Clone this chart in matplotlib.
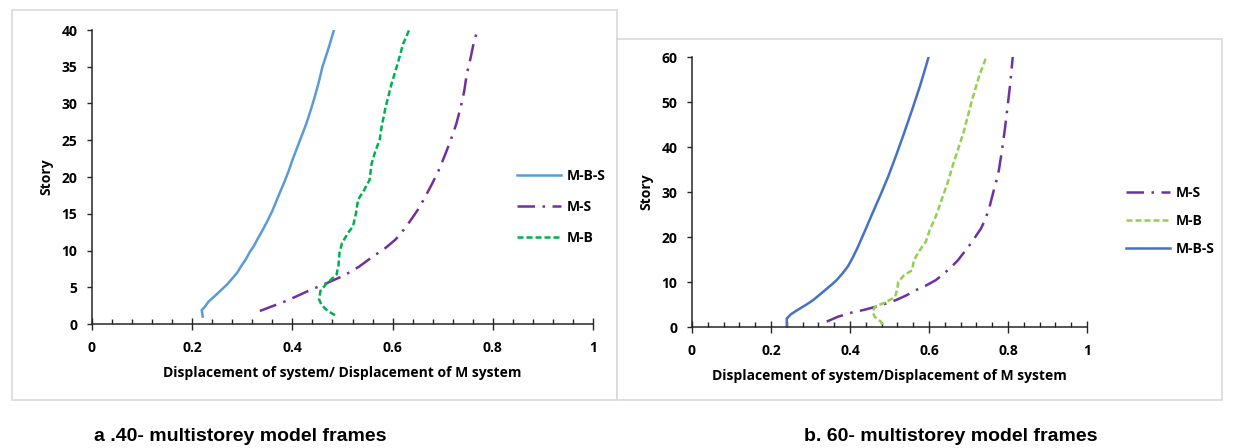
import matplotlib
matplotlib.use("Agg")
import matplotlib.pyplot as plt
from matplotlib.patches import Rectangle
from matplotlib.ticker import MultipleLocator, FuncFormatter

# ---- data: panel a (40 storeys) ----
a_mbs_x = [0.221, 0.219, 0.2255, 0.232, 0.245, 0.259, 0.27, 0.28, 0.29, 0.298, 0.307, 0.315, 0.323, 0.33, 0.34,
           0.35, 0.36, 0.369, 0.377, 0.385, 0.393, 0.40, 0.414, 0.428, 0.437, 0.445, 0.453, 0.46, 0.472, 0.483]
a_mbs_y = [1.0, 1.9, 2.35, 3.0, 3.8, 4.7, 5.4, 6.2, 7.0, 7.9, 8.8, 9.8, 10.6, 11.5, 12.7,
           14.0, 15.4, 16.9, 18.2, 19.5, 20.9, 22.3, 24.8, 27.3, 29.2, 31.0, 33.0, 35.0, 37.5, 40.0]

a_ms_x = [0.335, 0.39, 0.435, 0.47, 0.503, 0.533, 0.561, 0.585, 0.606, 0.622, 0.637, 0.652, 0.665, 0.679, 0.692,
          0.704, 0.716, 0.727, 0.736, 0.743, 0.748, 0.756, 0.763, 0.77]
a_ms_y = [1.77, 3.2, 4.6, 5.6, 6.6, 7.8, 9.2, 10.3, 11.5, 12.8, 14.2, 15.7, 17.3, 19.1, 20.9,
          22.9, 25.0, 27.2, 29.5, 31.7, 34.0, 36.3, 38.6, 40.0]

a_mb_x = [0.485, 0.47, 0.458, 0.453, 0.456, 0.468, 0.488, 0.492, 0.494, 0.499, 0.511, 0.521, 0.527, 0.531, 0.543,
          0.554, 0.558, 0.566, 0.574, 0.578, 0.586, 0.598, 0.61, 0.621, 0.633]
a_mb_y = [1.2, 1.8, 2.6, 3.4, 4.5, 5.5, 6.7, 8.0, 9.7, 11.0, 12.4, 13.3, 15.1, 16.9, 18.2,
          19.6, 21.8, 23.6, 25.0, 26.8, 29.5, 32.7, 35.4, 38.1, 40.0]

# ---- data: panel b (60 storeys) ----
b_ms_x = [0.341, 0.37, 0.404, 0.44, 0.477, 0.517, 0.542, 0.567, 0.592, 0.617, 0.637, 0.657, 0.673, 0.687, 0.702,
          0.717, 0.731, 0.742, 0.753, 0.762, 0.77, 0.777, 0.785, 0.792, 0.797, 0.802, 0.806, 0.809, 0.812]
b_ms_y = [1.2, 2.3, 3.2, 3.9, 4.8, 6.0, 7.0, 8.2, 9.2, 10.4, 11.8, 13.4, 14.8, 16.4, 18.1,
          20.0, 21.8, 23.8, 26.6, 29.7, 32.3, 34.9, 39.4, 43.9, 47.6, 51.3, 54.3, 57.2, 60.0]

b_mb_x = [0.482, 0.478, 0.462, 0.458, 0.463, 0.49, 0.514, 0.52, 0.522, 0.537, 0.557, 0.562, 0.577, 0.592, 0.602,
          0.617, 0.632, 0.647, 0.662, 0.687, 0.707, 0.727, 0.745]
b_mb_y = [0.5, 1.2, 2.3, 3.3, 4.5, 5.5, 6.7, 8.5, 10.0, 11.5, 12.6, 14.9, 17.1, 19.0, 21.6,
          24.5, 28.3, 32.0, 36.4, 43.1, 49.8, 55.8, 60.0]

b_mbs_x = [0.24, 0.24, 0.25, 0.262, 0.275, 0.29, 0.307, 0.322, 0.337, 0.352, 0.366, 0.381, 0.395, 0.408, 0.42,
           0.438, 0.457, 0.477, 0.497, 0.517, 0.537, 0.557, 0.577, 0.588, 0.599]
b_mbs_y = [0.1, 1.9, 2.8, 3.5, 4.2, 5.0, 6.0, 7.1, 8.2, 9.3, 10.4, 11.9, 13.5, 15.6, 17.8,
           21.4, 25.3, 29.3, 33.5, 38.2, 43.1, 48.2, 53.5, 56.7, 60.0]

FONT = ["Open Sans", "DejaVu Sans"]
FS = 10
DASHDOT = (0, (7, 3, 1, 3))
DASHED = (0, (2.4, 1.2))
LW = 1.8


def style_axes(ax, ymax, ystep):
    ax.set_xlim(0, 1)
    ax.set_ylim(0, ymax)
    for s in ["top", "right"]:
        ax.spines[s].set_visible(False)
    for s in ["left", "bottom"]:
        ax.spines[s].set_linewidth(1.1)
        ax.spines[s].set_color("#262626")
    ax.xaxis.set_major_locator(MultipleLocator(0.2))
    ax.xaxis.set_minor_locator(MultipleLocator(0.04))
    ax.yaxis.set_major_locator(MultipleLocator(ystep))
    ax.xaxis.set_major_formatter(FuncFormatter(lambda v, p: f"{v:g}"))
    ax.tick_params(axis="x", which="major", direction="inout", length=8, width=1, pad=8, color="#262626")
    ax.tick_params(axis="x", which="minor", direction="in", length=3.5, width=1, color="#262626")
    ax.tick_params(axis="y", which="major", direction="out", length=3.5, width=1, pad=7, color="#262626")
    for lab in ax.get_xticklabels() + ax.get_yticklabels():
        lab.set_fontfamily(FONT)
        lab.set_fontweight("bold")
        lab.set_fontsize(FS)
    ax.set_ylabel("Story", fontfamily=FONT, fontweight="bold", fontsize=FS, labelpad=6)


fig = plt.figure(figsize=(12.4, 4.48), dpi=100)

# grey frames around each panel
fig.patches.append(Rectangle((12 / 1240, 1 - 400 / 448), (617 - 12) / 1240, (400 - 10) / 448,
                             transform=fig.transFigure, fill=False, edgecolor="#d9d9d9", linewidth=1.2))
fig.patches.append(Rectangle((617 / 1240, 1 - 400 / 448), (1222 - 617) / 1240, (400 - 39) / 448,
                             transform=fig.transFigure, facecolor="white", edgecolor="#d9d9d9", linewidth=1.2, zorder=2))

# panel a
ax1 = fig.add_axes([92 / 1240, 1 - 324 / 448, 501 / 1240, 294 / 448])
ax1.plot(a_mbs_x, a_mbs_y, color="#5b9bd5", lw=LW, label="M-B-S")
ax1.plot(a_ms_x, a_ms_y, color="#7030a0", lw=LW, linestyle=DASHDOT, label="M-S")
ax1.plot(a_mb_x, a_mb_y, color="#00b050", lw=LW, linestyle=DASHED, label="M-B")
style_axes(ax1, 40, 5)
ax1.set_xlabel("Displacement of system/ Displacement of M system", fontfamily=FONT,
               fontweight="bold", fontsize=FS, labelpad=8)
ax1.legend(loc="center left", bbox_to_anchor=(504 / 1240, 1 - 207 / 448), bbox_transform=fig.transFigure,
           frameon=False, handlelength=3.2, handletextpad=0.4, labelspacing=1.2,
           prop={"family": FONT, "weight": "bold", "size": FS})

# panel b
ax2 = fig.add_axes([692 / 1240, 1 - 327 / 448, 395 / 1240, 270 / 448], zorder=3)
ax2.plot(b_ms_x, b_ms_y, color="#7030a0", lw=LW, linestyle=DASHDOT, label="M-S")
ax2.plot(b_mb_x, b_mb_y, color="#92d050", lw=LW, linestyle=DASHED, label="M-B")
ax2.plot(b_mbs_x, b_mbs_y, color="#4472c4", lw=LW, label="M-B-S")
style_axes(ax2, 60, 10)
ax2.set_xlabel("Displacement of system/Displacement of M system", fontfamily=FONT,
               fontweight="bold", fontsize=FS, labelpad=8)
ax2.legend(loc="center left", bbox_to_anchor=(1113 / 1240, 1 - 221 / 448), bbox_transform=fig.transFigure,
           frameon=False, handlelength=3.2, handletextpad=0.4, labelspacing=1.02,
           prop={"family": FONT, "weight": "bold", "size": FS})

# captions
fig.text(240 / 1240, 1 - 436 / 448, "a .40- multistorey model frames", ha="center", va="center",
         fontfamily="Liberation Sans", fontweight="bold", fontsize=14)
fig.text(951 / 1240, 1 - 436 / 448, "b. 60- multistorey model frames", ha="center", va="center",
         fontfamily="Liberation Sans", fontweight="bold", fontsize=14)

fig.savefig("out.png", dpi=100)
